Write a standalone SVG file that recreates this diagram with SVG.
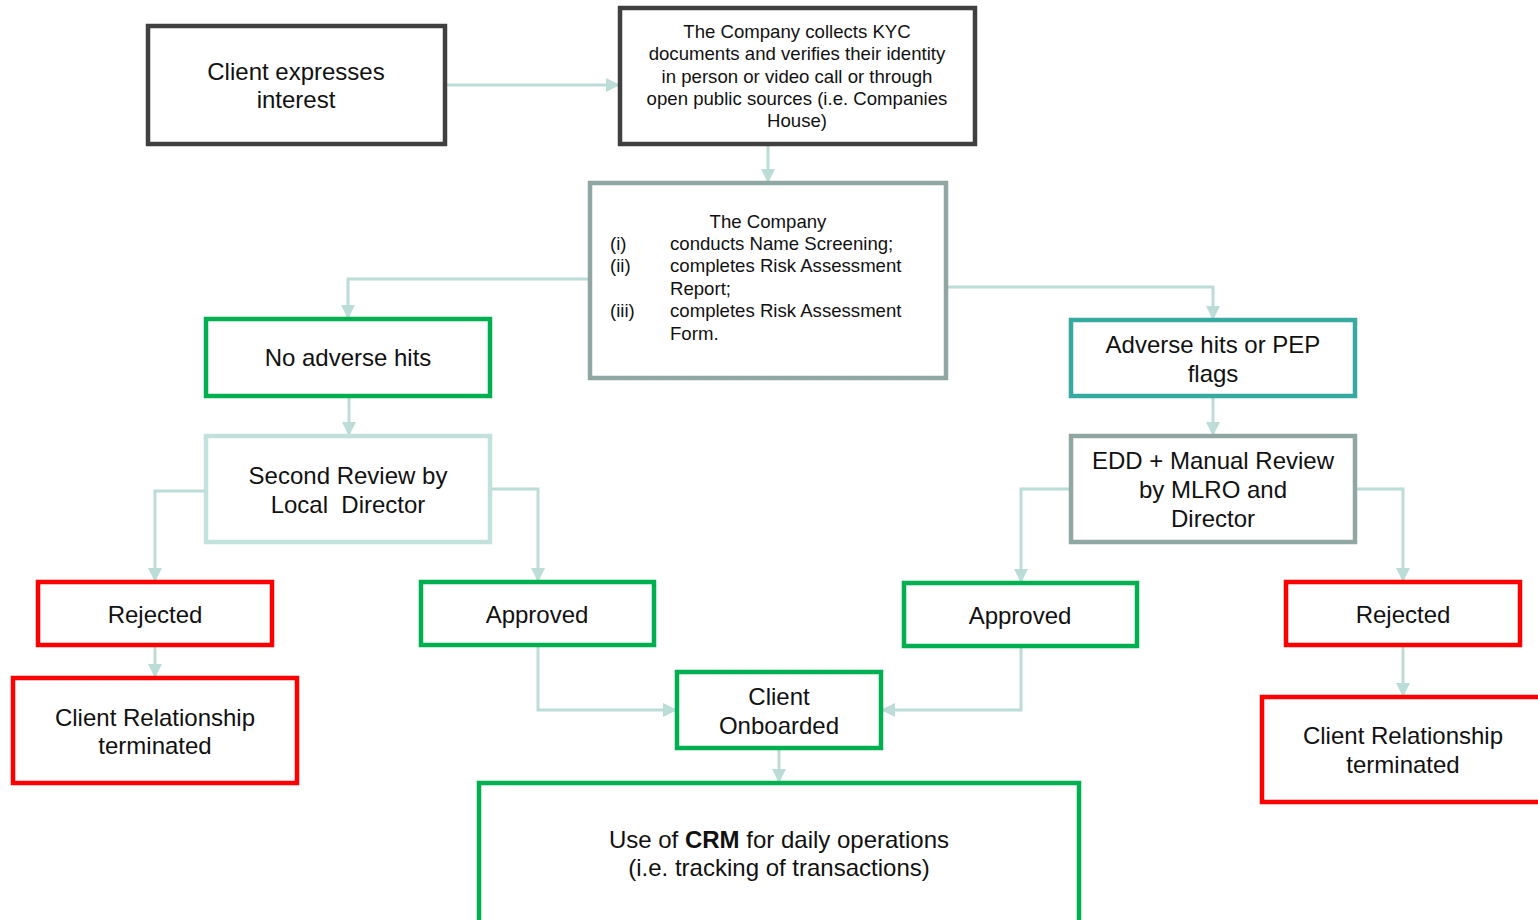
<svg xmlns="http://www.w3.org/2000/svg" width="1538" height="920" viewBox="0 0 1538 920">
<style>
text{font-family:"Liberation Sans",Arial,sans-serif;fill:#111;}
.t22{font-size:24px;text-anchor:middle;}
.t17{font-size:18.6px;}
.c{text-anchor:middle;}
rect{fill:#fff;stroke-width:4.5;}
.dark{stroke:#404040;}
.grey{stroke:#8fa6a2;}
.green{stroke:#00b050;}
.teal{stroke:#36a9a0;}
.light{stroke:#c2e1dc;}
.red{stroke:#ff0000;}
.conn path{fill:none;stroke:#bcdcd7;stroke-width:3;marker-end:url(#ah);}
</style>
<defs>
<marker id="ah" markerUnits="userSpaceOnUse" markerWidth="14" markerHeight="14" refX="13" refY="7" orient="auto">
<path d="M0,0 L14,7 L0,14 Z" fill="#bcdcd7"/>
</marker>
</defs>
<rect x="0" y="0" width="1538" height="920" style="fill:#fff;stroke:none"/>

<g class="conn" id="connectors">
<path d="M445,85 H619"/>
<path d="M768,145 V182"/>
<path d="M590,279 H348 V318"/>
<path d="M946,287 H1213 V319"/>
<path d="M349,397 V435"/>
<path d="M1213,397 V435"/>
<path d="M206,491 H155 V581"/>
<path d="M490,489 H538 V581"/>
<path d="M1071,489 H1021 V582"/>
<path d="M1355,489 H1403 V581"/>
<path d="M155,646 V677"/>
<path d="M1403,646 V696"/>
<path d="M538,646 V710 H676"/>
<path d="M1021,647 V710 H882"/>
<path d="M779,749 V782"/>
</g>

<g id="client-interest">
<rect class="dark" x="148" y="26" width="297" height="118"/>
<text class="t22" x="296" y="80">Client expresses</text>
<text class="t22" x="296" y="108">interest</text>
</g>

<g id="kyc">
<rect class="dark" x="620" y="8" width="355" height="136"/>
<text class="t17 c" x="797" y="38">The Company collects KYC</text>
<text class="t17 c" x="797" y="60">documents and verifies their identity</text>
<text class="t17 c" x="797" y="83">in person or video call or through</text>
<text class="t17 c" x="797" y="105">open public sources (i.e. Companies</text>
<text class="t17 c" x="797" y="127">House)</text>
</g>

<g id="screening">
<rect class="grey" x="590" y="183" width="356" height="195"/>
<text class="t17 c" x="768" y="228">The Company</text>
<text class="t17" x="610" y="250">(i)</text>
<text class="t17" x="670" y="250">conducts Name Screening;</text>
<text class="t17" x="610" y="272">(ii)</text>
<text class="t17" x="670" y="272">completes Risk Assessment</text>
<text class="t17" x="670" y="295">Report;</text>
<text class="t17" x="610" y="317">(iii)</text>
<text class="t17" x="670" y="317">completes Risk Assessment</text>
<text class="t17" x="670" y="340">Form.</text>
</g>

<g id="no-adverse">
<rect class="green" x="206" y="319" width="284" height="77"/>
<text class="t22" x="348" y="366">No adverse hits</text>
</g>

<g id="adverse">
<rect class="teal" x="1071" y="320" width="284" height="76"/>
<text class="t22" x="1213" y="353">Adverse hits or PEP</text>
<text class="t22" x="1213" y="382">flags</text>
</g>

<g id="second-review">
<rect class="light" x="206" y="436" width="284" height="106"/>
<text class="t22" x="348" y="484">Second Review by</text>
<text class="t22" x="348" y="513" xml:space="preserve">Local  Director</text>
</g>

<g id="edd">
<rect class="grey" x="1071" y="436" width="284" height="106"/>
<text class="t22" x="1213" y="469">EDD + Manual Review</text>
<text class="t22" x="1213" y="498">by MLRO and</text>
<text class="t22" x="1213" y="527">Director</text>
</g>

<g id="rejected-left">
<rect class="red" x="38" y="582" width="234" height="63"/>
<text class="t22" x="155" y="623">Rejected</text>
</g>

<g id="approved-left">
<rect class="green" x="421" y="582" width="233" height="63"/>
<text class="t22" x="537" y="623">Approved</text>
</g>

<g id="approved-right">
<rect class="green" x="904" y="583" width="233" height="63"/>
<text class="t22" x="1020" y="624">Approved</text>
</g>

<g id="rejected-right">
<rect class="red" x="1286" y="582" width="234" height="63"/>
<text class="t22" x="1403" y="623">Rejected</text>
</g>

<g id="terminated-left">
<rect class="red" x="13" y="678" width="284" height="105"/>
<text class="t22" x="155" y="726">Client Relationship</text>
<text class="t22" x="155" y="754">terminated</text>
</g>

<g id="terminated-right">
<rect class="red" x="1262" y="697" width="300" height="105"/>
<text class="t22" x="1403" y="744">Client Relationship</text>
<text class="t22" x="1403" y="773">terminated</text>
</g>

<g id="onboarded">
<rect class="green" x="677" y="672" width="204" height="76"/>
<text class="t22" x="779" y="705">Client</text>
<text class="t22" x="779" y="734">Onboarded</text>
</g>

<g id="crm">
<rect class="green" x="479" y="783" width="600" height="150"/>
<text class="t22" x="779" y="848">Use of <tspan font-weight="bold">CRM</tspan> for daily operations</text>
<text class="t22" x="779" y="876">(i.e. tracking of transactions)</text>
</g>
</svg>
